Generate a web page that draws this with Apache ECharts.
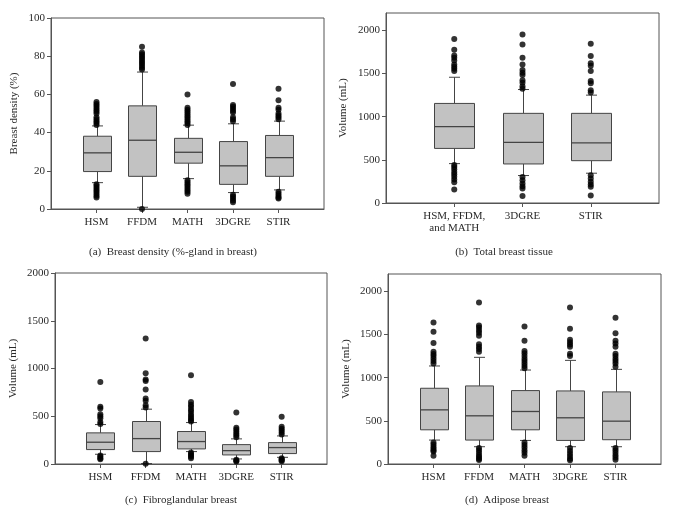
<!DOCTYPE html>
<html><head><meta charset="utf-8">
<script src="https://cdn.jsdelivr.net/npm/echarts@6/dist/echarts.min.js"></script>
<style>html,body{margin:0;padding:0;background:#fff}#c{width:693px;height:509px}</style>
</head><body><div id="c"></div><script>
// ---------- DATA ----------
const catsA = ['HSM', 'FFDM', 'MATH', '3DGRE', 'STIR'];
const catsB = ['HSM, FFDM,\nand MATH', '3DGRE', 'STIR'];
const catsC = ['HSM', 'FFDM', 'MATH', '3DGRE', 'STIR'];
const catsD = ['HSM', 'FFDM', 'MATH', '3DGRE', 'STIR'];

// [lower whisker, Q1, median, Q3, upper whisker]
const boxA = [
  [13.8, 19.6, 29.4, 38.1, 43.5],
  [0.9, 17.1, 36.0, 54.0, 71.7],
  [15.9, 24.0, 29.7, 37.0, 43.9],
  [8.6, 12.9, 22.6, 35.3, 44.6],
  [10.0, 17.1, 26.9, 38.5, 46.0]
];
const outA = [
  [56, 55, 54, 53, 52, 51, 50, 48, 47, 46, 45, 44, 13, 12, 11, 10, 9, 8, 7, 6],
  [85, 82, 81, 80, 79, 78, 77, 76, 75, 74, 73, 0],
  [60, 53, 52, 51, 50, 49, 48, 47, 46, 45, 44, 15, 14, 13, 12, 11, 10, 9, 8],
  [65.5, 54.5, 53.5, 52.5, 51.5, 50.5, 48, 47, 46, 7.5, 6.5, 5.5, 4.5, 3.5],
  [63, 57, 53, 52, 50, 49, 48, 47, 9, 8, 7, 6, 5.5]
];

const boxB = [
  [456, 632, 885, 1153, 1456],
  [318, 452, 701, 1038, 1314],
  [345, 490, 697, 1038, 1249]
];
const outB = [
  [1900, 1774, 1709, 1682, 1651, 1605, 1578, 1555, 1529, 441, 418, 391, 360, 333, 303, 272, 241, 157],
  [1950, 1835, 1682, 1605, 1540, 1509, 1483, 1421, 1391, 1352, 1322, 300, 264, 226, 195, 169, 80],
  [1843, 1701, 1617, 1590, 1529, 1414, 1387, 1306, 1280, 322, 283, 245, 215, 188, 88]
];

const boxC = [
  [102, 151, 228, 326, 413],
  [5, 130, 266, 445, 574],
  [130, 158, 235, 340, 434],
  [53, 95, 140, 203, 263],
  [70, 109, 172, 224, 294]
];
const outC = [
  [858, 600, 580, 520, 500, 480, 440, 420, 90, 75, 60, 50],
  [1313, 949, 886, 868, 781, 687, 662, 616, 592, 2],
  [930, 650, 620, 600, 570, 550, 520, 500, 480, 460, 445, 120, 105, 90, 75, 60],
  [540, 380, 360, 340, 320, 300, 280, 45, 35, 25],
  [495, 390, 370, 350, 330, 310, 60, 50, 40, 30]
];

const boxD = [
  [277, 396, 627, 877, 1135],
  [200, 277, 558, 904, 1235],
  [273, 396, 608, 850, 1088],
  [200, 273, 535, 846, 1200],
  [200, 281, 496, 835, 1096]
];
const outD = [
  [1638, 1531, 1400, 1300, 1273, 1250, 1223, 1192, 1165, 250, 225, 200, 180, 160, 146, 96],
  [1869, 1604, 1581, 1550, 1519, 1485, 1388, 1358, 1331, 1300, 185, 160, 130, 100, 80, 60, 45],
  [1592, 1427, 1308, 1281, 1250, 1219, 1192, 1165, 1135, 1108, 250, 220, 190, 160, 130, 96],
  [1811, 1565, 1438, 1411, 1385, 1358, 1277, 1250, 185, 150, 120, 90, 60, 42],
  [1692, 1515, 1427, 1396, 1358, 1277, 1250, 1219, 1192, 1165, 1127, 185, 160, 130, 100, 75, 50]
];

const yNames = ['Breast density (%)', 'Volume (mL)', 'Volume (mL)', 'Volume (mL)'];
const subtitles = ['(a)  Breast density (%-gland in breast)', '(b)  Total breast tissue',
                   '(c)  Fibroglandular breast', '(d)  Adipose breast'];
const yMax = [100, 2200, 2000, 2200];
const yTicks = [
  [0, 20, 40, 60, 80, 100],
  [0, 500, 1000, 1500, 2000],
  [0, 500, 1000, 1500, 2000],
  [0, 500, 1000, 1500, 2000]
];

// ---------- CHART ----------
const FONT = 'Liberation Serif';
const TXT = '#2a2a2a';
const LINE = '#555';
const panels = [
  {cats: catsA, box: boxA, out: outA, grid: {left: 51, top: 18, width: 273, height: 191}, bw: 28, nameGap: 31},
  {cats: catsB, box: boxB, out: outB, grid: {left: 386, top: 13, width: 273, height: 190}, bw: 40, nameGap: 37},
  {cats: catsC, box: boxC, out: outC, grid: {left: 55, top: 273, width: 272, height: 191}, bw: 28, nameGap: 36},
  {cats: catsD, box: boxD, out: outD, grid: {left: 388, top: 274, width: 273, height: 190}, bw: 28, nameGap: 36}
];
const subPos = [[168, 242], [499, 242], [176, 490], [502, 490]];

const grids = [], xAxes = [], yAxes = [], series = [], titles = [];
panels.forEach((p, i) => {
  grids.push(Object.assign({show: true, borderColor: LINE, borderWidth: 1, containLabel: false}, p.grid));
  xAxes.push({
    type: 'category', gridIndex: i, boundaryGap: false,
    data: [''].concat(p.cats, ['']),
    axisLine: {lineStyle: {color: LINE}},
    axisTick: {show: true, length: 4, lineStyle: {color: LINE}, interval: (idx, v) => v !== ''},
    axisLabel: {interval: 0, color: TXT, fontFamily: FONT, fontSize: 11, margin: 7, lineHeight: 12},
    splitLine: {show: false}
  });
  yAxes.push({
    type: 'value', gridIndex: i, min: 0, max: yMax[i],
    name: yNames[i], nameLocation: 'middle', nameGap: p.nameGap, nameRotate: 90,
    nameTextStyle: {color: TXT, fontFamily: FONT, fontSize: 11},
    axisLine: {show: true, lineStyle: {color: LINE}},
    axisTick: {show: true, length: 4, lineStyle: {color: LINE}, customValues: yTicks[i]},
    axisLabel: {color: TXT, fontFamily: FONT, fontSize: 11, margin: 6, customValues: yTicks[i],
      formatter: v => String(v)},
    splitLine: {show: false}
  });
  const bw = p.bw;
  series.push({
    type: 'custom', xAxisIndex: i, yAxisIndex: i,
    data: p.box.map((b, k) => [k + 1].concat(b)),
    encode: {x: 0, y: [1, 2, 3, 4, 5]},
    renderItem: (params, api) => {
      const x = api.value(0);
      const pMin = api.coord([x, api.value(1)]);
      const pQ1 = api.coord([x, api.value(2)]);
      const pMed = api.coord([x, api.value(3)]);
      const pQ3 = api.coord([x, api.value(4)]);
      const pMax = api.coord([x, api.value(5)]);
      const cx = Math.round(pMed[0]) + 0.5;
      const hw = bw / 2, cw = 5.5;
      const st = {stroke: '#444', lineWidth: 1};
      return {type: 'group', children: [
        {type: 'line', shape: {x1: cx, y1: pMax[1], x2: cx, y2: pQ3[1]}, style: st},
        {type: 'line', shape: {x1: cx, y1: pQ1[1], x2: cx, y2: pMin[1]}, style: st},
        {type: 'line', shape: {x1: cx - cw, y1: pMax[1], x2: cx + cw, y2: pMax[1]}, style: st},
        {type: 'line', shape: {x1: cx - cw, y1: pMin[1], x2: cx + cw, y2: pMin[1]}, style: st},
        {type: 'rect', shape: {x: cx - hw, y: pQ3[1], width: bw, height: pQ1[1] - pQ3[1]},
          style: {fill: '#c2c2c2', stroke: '#444', lineWidth: 1}},
        {type: 'line', shape: {x1: cx - hw, y1: pMed[1], x2: cx + hw, y2: pMed[1]}, style: {stroke: '#444', lineWidth: 1.3}}
      ]};
    },
    z: 2
  });
  const pts = [];
  p.out.forEach((arr, k) => arr.forEach(v => pts.push([k + 1, v])));
  series.push({
    type: 'scatter', xAxisIndex: i, yAxisIndex: i, data: pts,
    symbol: 'circle', symbolSize: 6, itemStyle: {color: '#000'}, z: 3
  });
  titles.push({
    text: subtitles[i], left: subPos[i][0], top: subPos[i][1], textAlign: 'center',
    textStyle: {color: TXT, fontFamily: FONT, fontSize: 11, fontWeight: 'normal'}
  });
});

const chart = echarts.init(document.getElementById('c'), null, {renderer: 'canvas'});
chart.setOption({
  animation: false,
  backgroundColor: '#fff',
  title: titles,
  grid: grids, xAxis: xAxes, yAxis: yAxes, series: series,
  tooltip: {show: false}
});
</script></body></html>
